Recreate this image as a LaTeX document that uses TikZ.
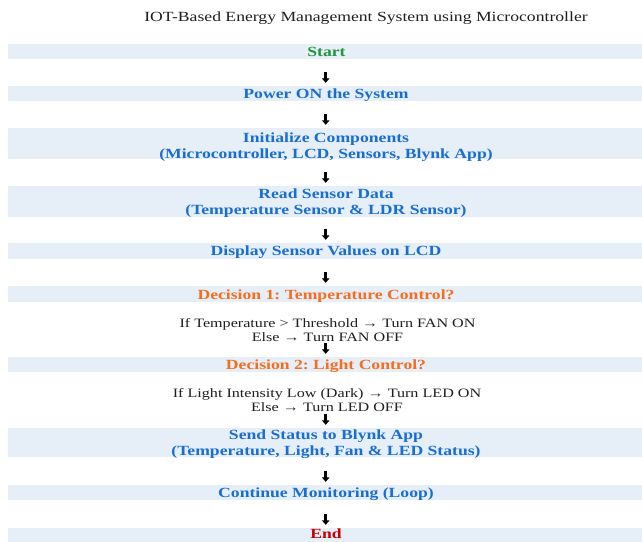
\documentclass[tikz,border=0pt]{standalone}
\usepackage{fontspec}
\setmainfont[FakeStretch=1.26]{Liberation Serif}
\usetikzlibrary{arrows.meta}
\frenchspacing
\definecolor{bandfill}{RGB}{230,238,248}
\definecolor{startgreen}{RGB}{30,150,60}
\definecolor{stepblue}{RGB}{25,110,210}
\definecolor{decorange}{RGB}{245,110,30}
\definecolor{endred}{RGB}{200,0,0}
\definecolor{titlegray}{RGB}{30,30,30}
\begin{document}
\begin{tikzpicture}[x=1pt,y=-1pt,
  band/.style={fill=bandfill,minimum width=634pt,inner sep=0pt},
  btext/.style={anchor=base,inner sep=0pt,font=\fontsize{14}{15.5}\selectfont\bfseries\frenchspacing},
  bluetext/.style={btext,text=stepblue},
  dectext/.style={btext,text=decorange},
  ctext/.style={anchor=base,inner sep=0pt,text=titlegray,font=\fontsize{12.8}{13.8}\selectfont\frenchspacing},
  arr/.style={line width=2.9pt,-{Triangle[width=7.5pt,length=4.5pt]}}]
\useasboundingbox (0,0) rectangle (642,541);
% title
\node[anchor=base,inner sep=0pt,font=\fontsize{14}{16}\selectfont,text=titlegray] (title) at (366,21.6) {IOT-Based Energy Management System using Microcontroller};
% bands
\node[band,minimum height=15pt] (start) at (325,51.6) {};
\node[band,minimum height=15pt] (power) at (325,93.5) {};
\node[band,minimum height=31pt] (init) at (325,143.5) {};
\node[band,minimum height=31pt] (read) at (325,201.5) {};
\node[band,minimum height=16pt] (display) at (325,251) {};
\node[band,minimum height=16pt] (dec1) at (325,294) {};
\node[band,minimum height=15pt] (dec2) at (325,364.5) {};
\node[band,minimum height=29pt] (send) at (325,442.5) {};
\node[band,minimum height=15pt] (cont) at (325,492.5) {};
\node[band,minimum height=16pt] (end) at (325,536) {};
% texts
\node[btext,text=startgreen] (startT) at (326.5,56.3) {Start};
\node[bluetext] (powerT) at (326,98.2) {Power ON the System};
\node[bluetext] (initA) at (326,142) {Initialize Components};
\node[bluetext] (initB) at (326,158) {(Microcontroller, LCD, Sensors, Blynk App)};
\node[bluetext] (readA) at (326,198.5) {Read Sensor Data};
\node[bluetext] (readB) at (326,214) {(Temperature Sensor \& LDR Sensor)};
\node[bluetext] (displayT) at (326,255.8) {Display Sensor Values on LCD};
\node[dectext] (dec1T) at (326,299.2) {Decision 1: Temperature Control?};
\node[ctext] (c1A) at (327.5,327) {If Temperature > Threshold → Turn FAN ON};
\node[ctext] (c1B) at (327.5,341) {Else → Turn FAN OFF};
\node[dectext] (dec2T) at (326,369.3) {Decision 2: Light Control?};
\node[ctext] (c2A) at (327,397.5) {If Light Intensity Low (Dark) → Turn LED ON};
\node[ctext] (c2B) at (327,411) {Else → Turn LED OFF};
\node[bluetext] (sendA) at (326,439.5) {Send Status to Blynk App};
\node[bluetext] (sendB) at (326,455) {(Temperature, Light, Fan \& LED Status)};
\node[bluetext] (contT) at (326,497.7) {Continue Monitoring (Loop)};
\node[btext,text=endred] (endT) at (326,538.6) {End};
% arrows
\foreach \t in {power,init,read,display,dec1,dec2,send,cont,end}
  \draw[arr] ([xshift=0.7pt,yshift=13.5pt]\t.north) -- ([xshift=0.7pt,yshift=3pt]\t.north);
\end{tikzpicture}
\end{document}
